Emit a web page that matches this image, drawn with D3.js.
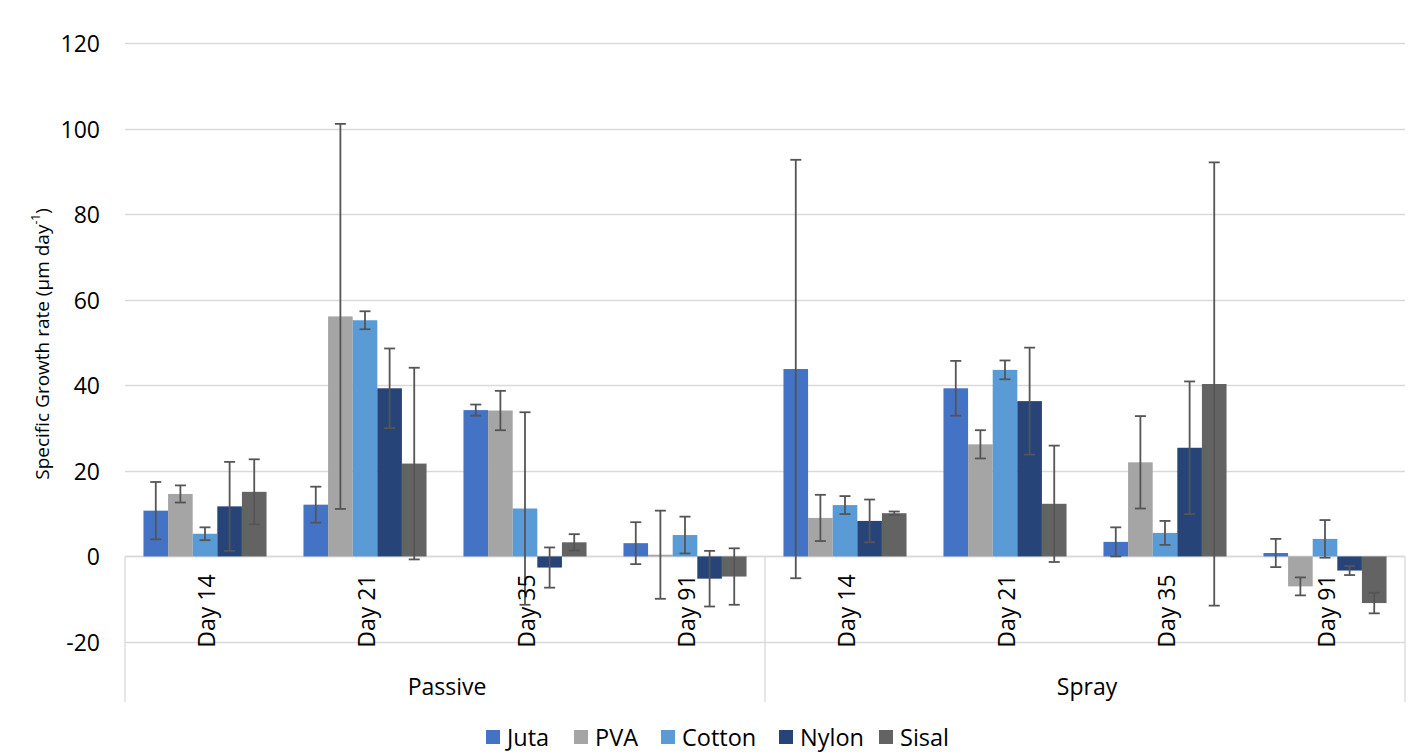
<!DOCTYPE html>
<html>
<head>
<meta charset="utf-8">
<script src="https://cdn.jsdelivr.net/npm/d3@7"></script>
<style>
  html, body { margin: 0; padding: 0; background: #fff; }
  svg text { font-family: "Open Sans", "Liberation Sans", sans-serif; fill: #000; }
</style>
</head>
<body>
<svg id="chart" width="1409" height="754"></svg>
<script>
// ---- data ----
const groups = ["Passive", "Spray"];
const days = ["Day 14", "Day 21", "Day 35", "Day 91"];
const seriesNames = ["Juta", "PVA", "Cotton", "Nylon", "Sisal"];
const seriesColors = ["#4472C4", "#A5A5A5", "#5B9BD5", "#264478", "#636363"];
const yTicks = [-20, 0, 20, 40, 60, 80, 100, 120];
// values per category order: Passive D14, D21, D35, D91, Spray D14, D21, D35, D91
const jutaValues   = [10.7, 12.1, 34.2, 3.1, 43.8, 39.3, 3.4, 0.8];
const jutaErr      = [6.7, 4.2, 1.3, 4.9, 48.9, 6.4, 3.4, 3.3];
const pvaValues    = [14.6, 56.1, 34.1, 0.4, 9.0, 26.2, 22.0, -7.0];
const pvaErr       = [2.0, 45.0, 4.6, 10.3, 5.4, 3.3, 10.8, 2.1];
const cottonValues = [5.3, 55.2, 11.2, 5.0, 12.0, 43.6, 5.5, 4.1];
const cottonErr    = [1.5, 2.1, 22.5, 4.3, 2.1, 2.2, 2.8, 4.4];
const nylonValues  = [11.7, 39.3, -2.6, -5.2, 8.3, 36.3, 25.4, -3.3];
const nylonErr     = [10.4, 9.3, 4.7, 6.5, 5.0, 12.5, 15.5, 1.05];
const sisalValues  = [15.1, 21.7, 3.3, -4.7, 10.1, 12.3, 40.3, -10.9];
const sisalErr     = [7.6, 22.4, 1.9, 6.6, 0.4, 13.6, 51.8, 2.4];

const allValues = [jutaValues, pvaValues, cottonValues, nylonValues, sisalValues];
const allErr = [jutaErr, pvaErr, cottonErr, nylonErr, sisalErr];

const categories = [];
groups.forEach(g => days.forEach(d => categories.push(g + "|" + d)));

const rows = [];
seriesNames.forEach((s, si) => {
  categories.forEach((c, ci) => {
    rows.push({ series: s, si, cat: c, value: allValues[si][ci], err: allErr[si][ci] });
  });
});

// ---- layout ----
const plotLeft = 125, plotRight = 1405, plotTop = 43, plotBottom = 642;
const svg = d3.select("#chart");

const y = d3.scaleLinear().domain([-20, 120]).range([plotBottom, plotTop]);
const x0 = d3.scaleBand().domain(categories).range([plotLeft, plotRight]).padding(0);
const x1 = d3.scaleBand().domain(seriesNames).range([0, x0.bandwidth()]).paddingInner(0).paddingOuter(0.75);
const color = d3.scaleOrdinal().domain(seriesNames).range(seriesColors);
const gx = d3.scaleBand().domain(groups).range([plotLeft, plotRight]).padding(0);

const gridColor = "#D9D9D9";

// gridlines
svg.append("g").selectAll("line").data(yTicks).join("line")
  .attr("x1", plotLeft).attr("x2", plotRight)
  .attr("y1", d => Math.round(y(d)) + 0.5).attr("y2", d => Math.round(y(d)) + 0.5)
  .attr("stroke", gridColor).attr("stroke-width", 1.3);

// y tick labels
svg.append("g").selectAll("text").data(yTicks).join("text")
  .attr("x", 100).attr("y", d => y(d))
  .attr("text-anchor", "end").attr("dominant-baseline", "central")
  .style("font-size", "23px")
  .text(d => d);

// y axis title
svg.append("text")
  .attr("transform", `translate(42,${(210 + 478) / 2}) rotate(-90)`)
  .attr("text-anchor", "middle").attr("dominant-baseline", "central")
  .style("font-size", "19px")
  .html('Specific Growth rate (µm day<tspan dy="-7" style="font-size:12px">-1</tspan><tspan dy="7">)</tspan>');

// category axis lines
const y0 = Math.round(y(0)) + 0.5;
svg.append("line").attr("x1", plotLeft).attr("x2", plotRight).attr("y1", y0).attr("y2", y0)
  .attr("stroke", gridColor).attr("stroke-width", 1.3);
const sepX = [plotLeft, gx("Spray"), plotRight];
svg.append("g").selectAll("line").data(sepX).join("line")
  .attr("x1", d => d).attr("x2", d => d)
  .attr("y1", y0).attr("y2", 702)
  .attr("stroke", gridColor).attr("stroke-width", 1.3);

// bars
svg.append("g").selectAll("rect").data(rows).join("rect")
  .attr("x", d => x0(d.cat) + x1(d.series))
  .attr("width", x1.bandwidth())
  .attr("y", d => y(Math.max(0, d.value)))
  .attr("height", d => Math.abs(y(d.value) - y(0)))
  .attr("fill", d => color(d.series));

// error bars
const eb = svg.append("g").attr("stroke", "#555555").attr("stroke-width", 1.8);
const cap = 5.5;
rows.forEach(d => {
  const cx = x0(d.cat) + x1(d.series) + x1.bandwidth() / 2;
  const yt = y(d.value + d.err), yb = y(d.value - d.err);
  eb.append("line").attr("x1", cx).attr("x2", cx).attr("y1", yt).attr("y2", yb);
  eb.append("line").attr("x1", cx - cap).attr("x2", cx + cap).attr("y1", yt).attr("y2", yt);
  eb.append("line").attr("x1", cx - cap).attr("x2", cx + cap).attr("y1", yb).attr("y2", yb);
});

// day labels
svg.append("g").selectAll("text").data(categories).join("text")
  .attr("transform", d => `translate(${x0(d) + x0.bandwidth() / 2 + 1},611) rotate(-90)`)
  .attr("text-anchor", "middle").attr("dominant-baseline", "central")
  .style("font-size", "23px")
  .text(d => d.split("|")[1]);

// group labels
svg.append("g").selectAll("text").data(groups).join("text")
  .attr("x", d => gx(d) + gx.bandwidth() / 2 + 2).attr("y", 686)
  .attr("text-anchor", "middle").attr("dominant-baseline", "central")
  .style("font-size", "23px")
  .text(d => d);

// legend
const legendX = [486, 574, 661, 779, 879];
const lg = svg.append("g").selectAll("g").data(seriesNames).join("g")
  .attr("transform", (d, i) => `translate(${legendX[i]},730)`);
lg.append("rect").attr("width", 14).attr("height", 14).attr("fill", d => color(d));
lg.append("text").attr("x", 21).attr("y", 7).attr("dominant-baseline", "central")
  .style("font-size", "23.5px").text(d => d);
</script>
</body>
</html>
